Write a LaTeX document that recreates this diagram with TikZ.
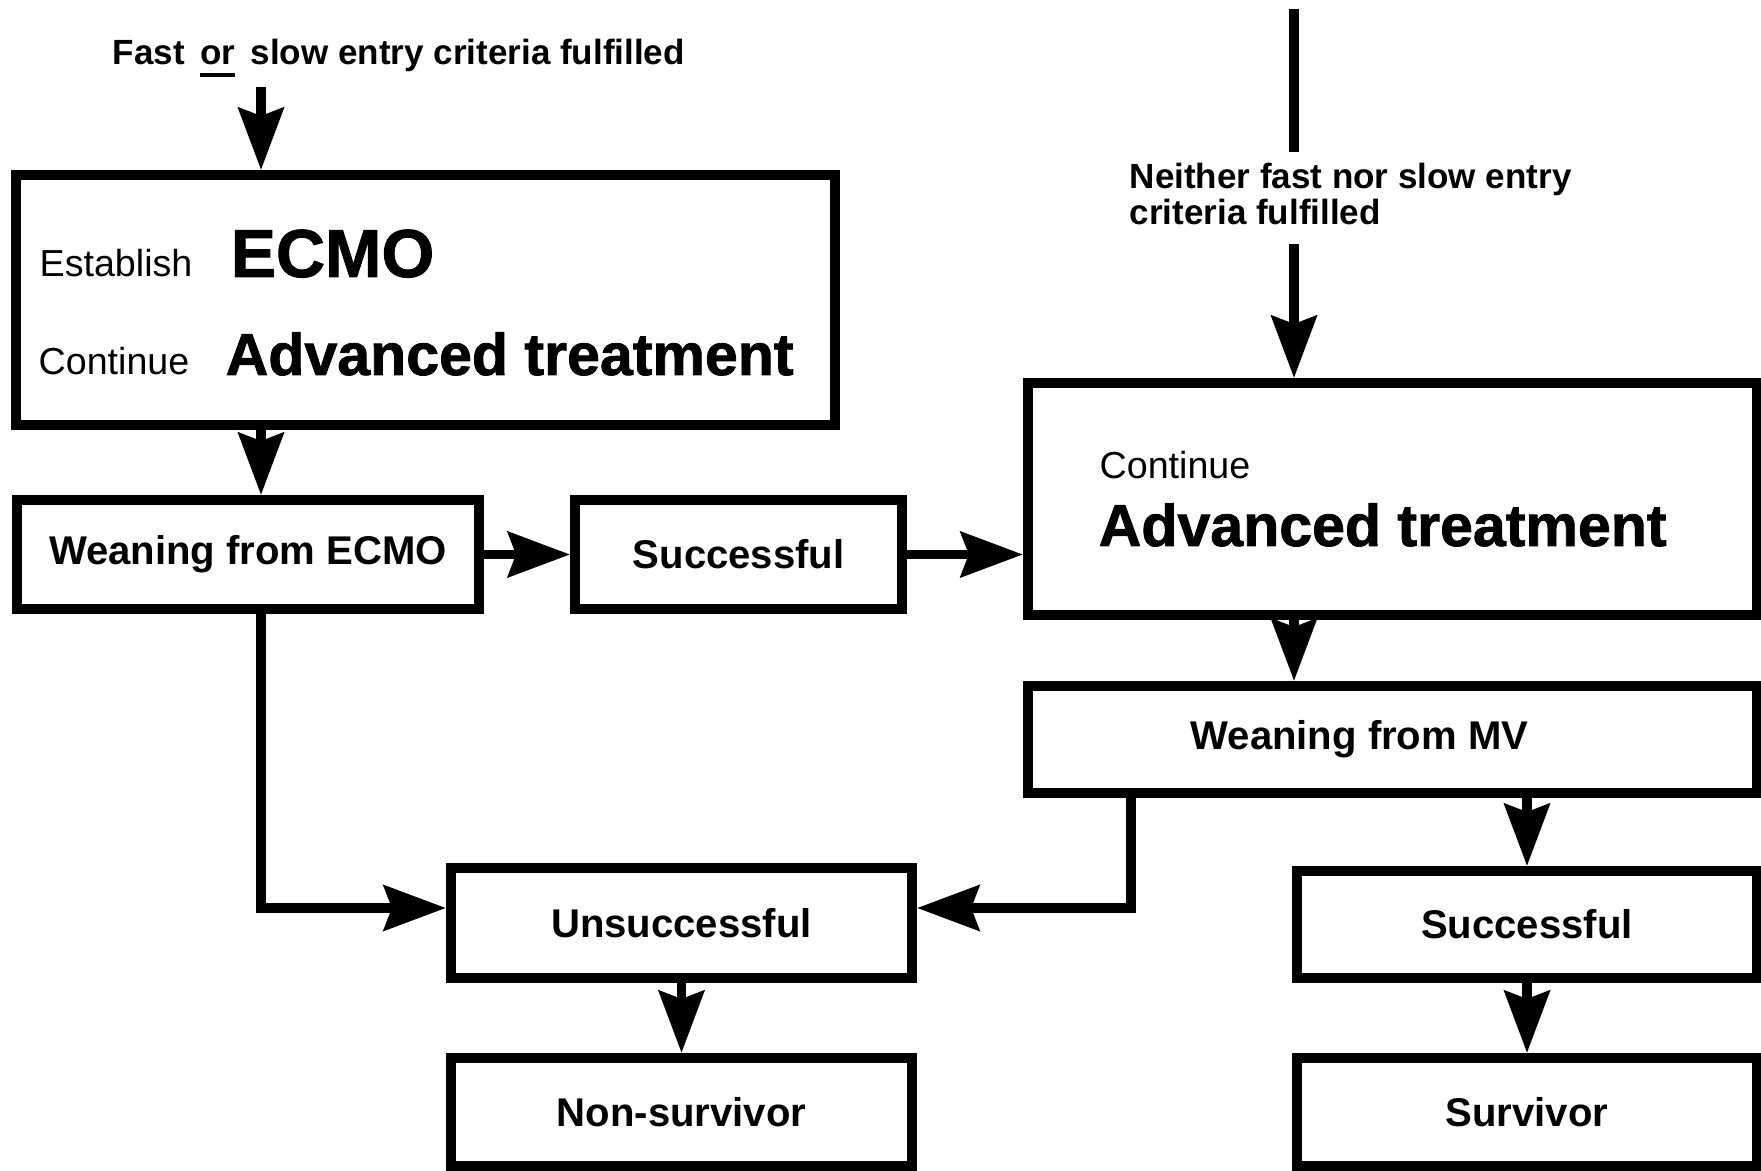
\documentclass[tikz,border=0pt]{standalone}
\usepackage{fontspec}
\setmainfont{Liberation Sans}
\newfontfamily\heavyfont{Liberation Sans}[FakeBold=1.4]
\usetikzlibrary{positioning,arrows.meta}
\newcommand{\thickunder}[1]{\setbox0\hbox{#1}\rlap{\rule[-1.2mm]{\wd0}{0.4mm}}\box0\relax}

\begin{document}
\begin{tikzpicture}[x=0.01cm, y=-0.01cm,
flowbox/.style={rectangle, draw=black, line width=2.8pt, inner sep=0pt, font=\bfseries\fontsize{11.4}{13}\selectfont},
bigbox/.style={rectangle, draw=black, line width=2.8pt, inner sep=0pt},
plaintext/.style={inner sep=0pt, font=\fontsize{10.7}{12}\selectfont},
heavytext/.style={inner sep=0pt, font=\heavyfont\bfseries\fontsize{16.8}{20}\selectfont},
cuetext/.style={inner sep=0pt, font=\bfseries\fontsize{9.96}{10.5}\selectfont},
arrowline/.style={line width=2.8pt, -{Stealth[length=6.2mm, width=4.5mm, inset=0.8mm]}},
plainline/.style={line width=2.8pt},
]
\useasboundingbox (0,0) rectangle (1761,1171);

%Nodes
\node[bigbox, minimum width=8.19cm, minimum height=2.50cm] (ecmo) at (425.5,300) {};
\node[plaintext, anchor=base west] (establish) at (39,277) {Establish};
\node[heavytext, anchor=base west, font=\heavyfont\bfseries\fontsize{19.3}{22}\selectfont] (ecmoword) at (230,277) {ECMO};
\node[plaintext, anchor=base west] (contL) at (38,375) {Continue};
\node[heavytext, anchor=base west] (advL) at (225,375) {Advanced treatment};

\node[flowbox, minimum width=4.62cm, minimum height=1.09cm] (weanE) at (248,554.5) {Weaning from ECMO};
\node[flowbox, minimum width=3.27cm, minimum height=1.09cm, right=0.86cm of weanE] (succL) {Successful};

\node[flowbox, minimum width=4.61cm, minimum height=1.10cm] (unsucc) at (681.5,923) {Unsuccessful};
\node[flowbox, minimum width=4.61cm, minimum height=1.08cm, below=0.70cm of unsucc] (nonsurv) {Non-survivor};

\node[bigbox, minimum width=7.29cm, minimum height=2.32cm] (bigR) at (1392.5,499) {};
\node[plaintext, anchor=base west] (contR) at (1099,479) {Continue};
\node[heavytext, anchor=base west] (advR) at (1098,546) {Advanced treatment};
\node[flowbox, minimum width=7.29cm, minimum height=1.07cm, below=0.61cm of bigR] (mv) {Weaning from MV\hspace*{0.66cm}};

\node[flowbox, minimum width=4.60cm, minimum height=1.07cm] (succR) at (1527,924.5) {Successful};
\node[flowbox, minimum width=4.60cm, minimum height=1.08cm, below=0.70cm of succR] (surv) {Survivor};

\node[cuetext, anchor=base west] (fastcue) at (112,65) {Fast\hspace{0.155cm}\thickunder{or}\hspace{0.155cm}slow entry criteria fulfilled};
\node[cuetext, anchor=north west, align=left] (neithercue) at (1129,162) {Neither fast nor slow entry\\criteria fulfilled};

\coordinate (entry) at (261,87);
\coordinate (rtop) at (1294,9);
\coordinate (dropjoin) at (1131,908);

%Lines
\draw[arrowline] (entry) -- (entry |- ecmo.north);
\draw[arrowline] (entry |- ecmo.south) -- (entry |- weanE.north);
\draw[arrowline] (weanE) -- (succL);
\draw[arrowline] (succL.east) -- (succL.east -| bigR.west);
\draw[arrowline] (entry |- weanE.south) |- (unsucc.west |- dropjoin);
\draw[arrowline] (unsucc) -- (nonsurv);

\draw[plainline, shorten >=0.1cm] (rtop) -- (rtop |- neithercue.north);
\draw[arrowline, shorten <=0.18cm] (rtop |- neithercue.south) -- (rtop |- bigR.north);
\draw[arrowline] (rtop |- bigR.south) -- (rtop |- mv.north);
\draw[arrowline] (dropjoin |- mv.south) |- (unsucc.east |- dropjoin);
\draw[arrowline] (succR.north |- mv.south) -- (succR);
\draw[arrowline] (succR) -- (surv);

\end{tikzpicture}
\end{document}
